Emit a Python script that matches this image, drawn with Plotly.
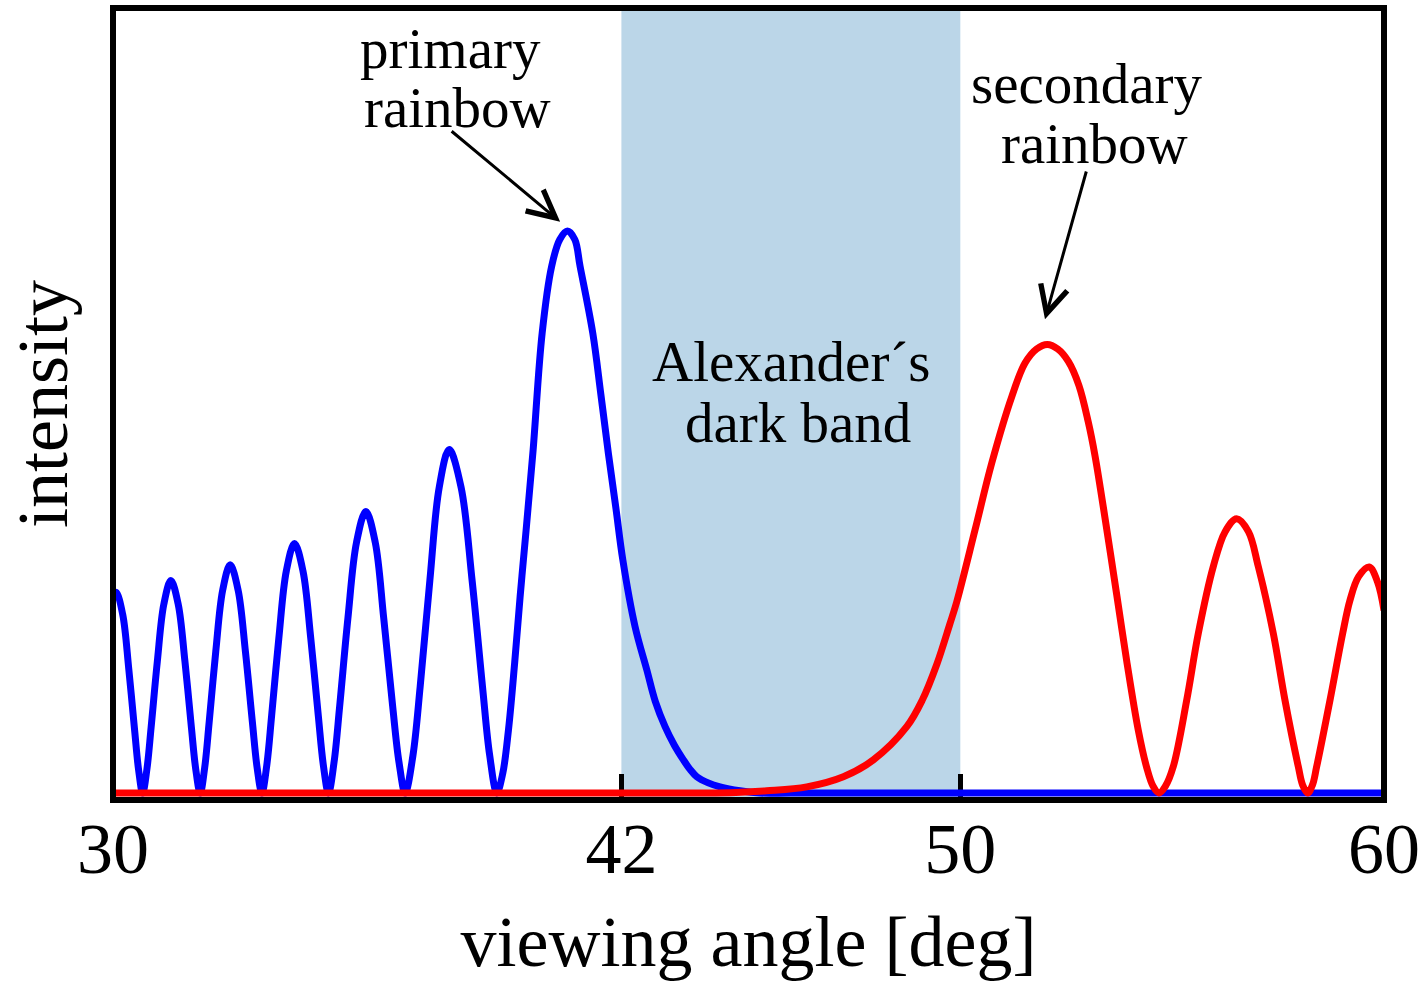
import plotly.graph_objects as go

# ---- data (viewing angle in deg, intensity in arbitrary units) ----
blue_x = [30.00, 30.07, 30.228, 30.372, 30.511, 30.606, 30.70,
          30.800, 30.900, 31.046, 31.200, 31.366,
          31.539, 31.698, 31.850, 31.954, 32.058,
          32.164, 32.270, 32.426, 32.589, 32.766,
          32.953, 33.125, 33.290, 33.402, 33.514,
          33.629, 33.745, 33.914, 34.091, 34.283,
          34.484, 34.668, 34.845, 34.966, 35.086,
          35.218, 35.351, 35.545, 35.748, 35.968,
          36.190, 36.390, 36.600, 36.750, 36.896,
          37.080, 37.250, 37.480, 37.700, 37.934,
          38.216, 38.475, 38.722, 38.891, 39.060,
          39.200, 39.334, 39.480, 39.609, 39.751, 39.916, 40.129, 40.353, 40.546, 40.726,
          40.900, 41.025, 41.325, 41.514, 41.693, 41.870, 42.033, 42.323, 42.600, 42.800,
          43.031, 43.250, 43.463, 43.620, 43.780, 44.050, 44.329, 44.800, 45.270,
          46.0, 48.0, 50.0, 52.0, 54.0, 56.0, 58.0, 60.0]
blue_y = [0.354, 0.357, 0.318, 0.221, 0.111, 0.040, 0.0,
          0.042, 0.117, 0.234, 0.336, 0.378,
          0.336, 0.234, 0.117, 0.042, 0.0,
          0.045, 0.126, 0.252, 0.361, 0.406,
          0.361, 0.252, 0.126, 0.045, 0.0,
          0.049, 0.138, 0.275, 0.395, 0.444,
          0.395, 0.275, 0.138, 0.049, 0.0,
          0.055, 0.155, 0.311, 0.446, 0.501,
          0.446, 0.311, 0.155, 0.055, 0.0,
          0.067, 0.189, 0.379, 0.544, 0.611,
          0.544, 0.379, 0.189, 0.067, 0.0,
          0.035, 0.112, 0.231, 0.349, 0.468, 0.610, 0.818, 0.937, 0.985, 1.000,
          0.985, 0.937, 0.818, 0.710, 0.604, 0.507, 0.415, 0.296, 0.219, 0.163,
          0.118, 0.085, 0.059, 0.042, 0.029, 0.018, 0.011, 0.004, 0.0,
          0.0, 0.0, 0.0, 0.0, 0.0, 0.0, 0.0, 0.0]

red_x = [30.0, 32.0, 34.0, 36.0, 38.0, 40.0, 42.0, 44.0, 44.7, 45.43, 46.375, 47.239, 47.947,
         48.735, 49.100, 49.450, 49.750, 49.915, 50.347, 50.741, 51.213, 51.527, 51.800,
         52.053, 52.300, 52.549, 52.800, 53.020, 53.179, 53.438, 53.691, 53.927, 54.200,
         54.400, 54.550, 54.689, 54.840, 55.026, 55.343, 55.617, 55.971, 56.250, 56.523,
         56.800, 57.033, 57.387, 57.663, 57.977, 58.080, 58.199, 58.310, 58.411, 58.725,
         59.025, 59.197, 59.400, 59.652, 59.850, 60.0]
red_y = [0.0, 0.0, 0.0, 0.0, 0.0, 0.0, 0.0, 0.0, 0.001, 0.004, 0.011, 0.029, 0.059,
         0.118, 0.165, 0.230, 0.300, 0.340, 0.468, 0.587, 0.705, 0.765, 0.790,
         0.798, 0.790, 0.768, 0.725, 0.660, 0.600, 0.478, 0.353, 0.235, 0.112,
         0.045, 0.012, 0.0, 0.012, 0.047, 0.165, 0.284, 0.403, 0.465, 0.488,
         0.465, 0.403, 0.284, 0.165, 0.047, 0.014, 0.0, 0.014, 0.047, 0.165,
         0.284, 0.343, 0.385, 0.402, 0.375, 0.325]

band_range = [42, 50]
tick_values = [30, 42, 50, 60]
tick_labels = ["30", "42", "50", "60"]

FONT = "Liberation Serif"

fig = go.Figure()

fig.add_shape(type="rect", xref="x", yref="paper", x0=band_range[0], x1=band_range[1],
              y0=0, y1=1, fillcolor="#BBD6E8", line_width=0, layer="below")

fig.add_trace(go.Scatter(x=blue_x, y=blue_y, mode="lines", showlegend=False, hoverinfo="skip",
                         line=dict(color="#0000FF", width=7, shape="spline", smoothing=1.0)))
fig.add_trace(go.Scatter(x=red_x, y=red_y, mode="lines", showlegend=False, hoverinfo="skip",
                         line=dict(color="#FF0000", width=7, shape="spline", smoothing=1.0)))

# frame
fig.add_shape(type="rect", xref="paper", yref="paper", x0=0, x1=1, y0=0, y1=1,
              line=dict(color="black", width=6), layer="above")

txt = dict(family=FONT, size=57, color="black")
labels = [
    ("primary", 37.97, 1.324),
    ("rainbow", 38.135, 1.219),
    ("secondary", 52.99, 1.262),
    ("rainbow", 53.16, 1.155),
    ("Alexander\u00b4s", 46.02, 0.767),
    ("dark band", 46.17, 0.660),
]
for t, x, y in labels:
    fig.add_annotation(text=t, x=x, y=y, xref="x", yref="y", showarrow=False,
                       xanchor="center", yanchor="middle", font=txt)

arrows = [
    (40.554, 1.0165, 37.958, 1.1797),
    (51.998, 0.843, 52.983, 1.1085),
]
for x, y, ax, ay in arrows:
    fig.add_annotation(text="", x=x, y=y, ax=ax, ay=ay, xref="x", yref="y", axref="x", ayref="y",
                       showarrow=True, arrowhead=5, arrowsize=1.8, arrowwidth=3, arrowcolor="black")

fig.update_xaxes(range=[30, 60], tickvals=tick_values, ticktext=tick_labels, ticks="inside",
                 ticklen=26, tickwidth=5, tickcolor="black", showline=False, showgrid=False,
                 zeroline=False, layer="below traces", ticklabelstandoff=0,
                 tickfont=dict(family=FONT, size=72, color="black"),
                 title=dict(text="viewing angle [deg]", font=dict(family=FONT, size=72, color="black"),
                            standoff=27))
fig.update_yaxes(range=[-0.01246, 1.3968], showticklabels=False, ticks="", showline=False,
                 showgrid=False, zeroline=False,
                 title=dict(text="intensity", font=dict(family=FONT, size=72, color="black"),
                            standoff=20))

fig.update_layout(width=1427, height=990, autosize=False,
                  margin=dict(l=113, r=43, t=8, b=190, pad=0),
                  paper_bgcolor="white", plot_bgcolor="white")

fig.write_html("out.html")
